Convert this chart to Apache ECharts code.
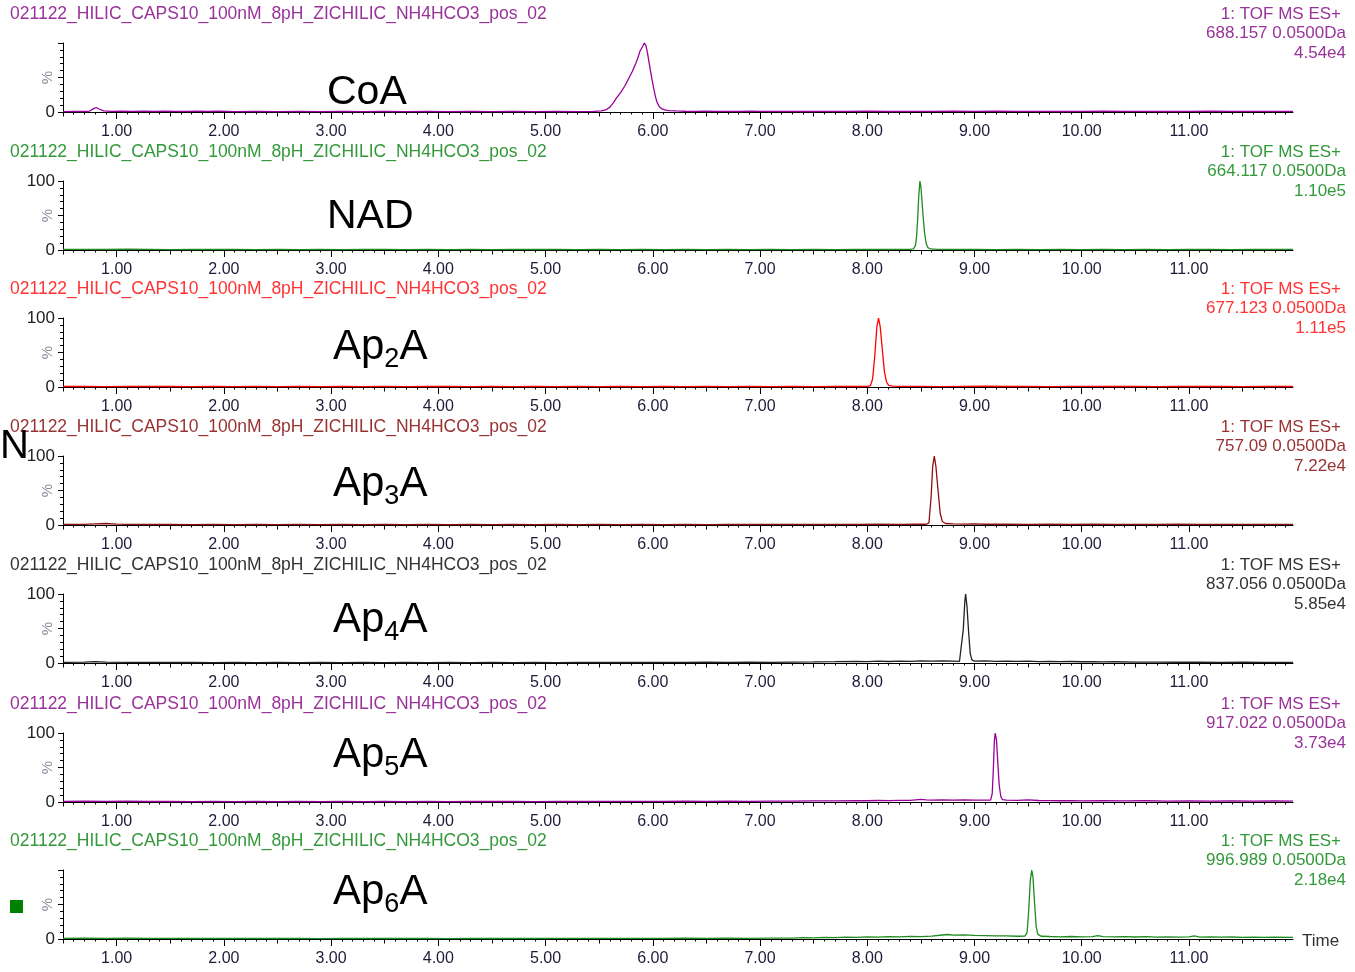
<!DOCTYPE html>
<html><head><meta charset="utf-8">
<script src="https://cdn.jsdelivr.net/npm/echarts@6/dist/echarts.min.js"></script>
<style>html,body{margin:0;padding:0;background:#fff}#c{width:1355px;height:972px}</style>
</head><body><div id="c"></div><script>
const fileName = '021122_HILIC_CAPS10_100nM_8pH_ZICHILIC_NH4HCO3_pos_02';
const scanLabel = '1: TOF MS ES+';
const compounds = ['CoA', 'NAD', 'Ap2A', 'Ap3A', 'Ap4A', 'Ap5A', 'Ap6A'];
const massLabels = ['688.157 0.0500Da', '664.117 0.0500Da', '677.123 0.0500Da', '757.09 0.0500Da', '837.056 0.0500Da', '917.022 0.0500Da', '996.989 0.0500Da'];
const intensities = ['4.54e4', '1.10e5', '1.11e5', '7.22e4', '5.85e4', '3.73e4', '2.18e4'];
const xTickLabels = [1, 2, 3, 4, 5, 6, 7, 8, 9, 10, 11];
const yLabelValues = [[0], [0, 100], [0, 100], [0, 100], [0, 100], [0, 100], [0]];

const coa = [[0.50,0.6],[0.60,0.9],[0.70,0.7],[0.75,1.4],[0.78,4.5],[0.81,6.5],[0.84,4],[0.88,1.5],[0.95,0.9],[1.05,1.3],[1.15,0.8],[1.25,1.1],[1.35,0.7],[1.45,1.2],[1.55,0.8],[1.65,1.0],[1.75,1.3],[1.85,0.9],[1.95,1.1],[2.1,0.6],[2.3,0.8],[2.5,0.5],[2.7,0.7],[2.9,0.6],[3.1,0.8],[3.3,0.5],[3.5,0.7],[3.7,0.6],[3.9,0.8],[4.1,0.5],[4.3,0.7],[4.5,0.6],[4.7,0.8],[4.9,0.6],[5.1,0.7],[5.3,0.6],[5.45,0.9],[5.52,1.5],[5.56,3],[5.60,7],[5.63,13],[5.66,20],[5.70,28],[5.74,38],[5.78,50],[5.81,59],[5.84,70],[5.86,78],[5.88,88],[5.895,86],[5.905,95],[5.92,100],[5.935,97],[5.95,86],[5.965,72],[5.98,58],[5.995,45],[6.01,33],[6.025,22],[6.04,14],[6.06,8],[6.08,5],[6.11,3],[6.15,2],[6.22,1.5],[6.3,1.1],[6.4,0.9],[6.5,1.2],[6.6,0.8],[6.7,1.0],[6.8,0.7],[6.9,1.1],[7.0,0.8],[7.2,0.9],[7.4,0.7],[7.6,1.0],[7.8,0.8],[8.0,1.1],[8.2,0.7],[8.4,0.9],[8.6,0.8],[8.8,1.2],[9.0,0.9],[9.2,1.1],[9.4,0.8],[9.6,1.0],[9.8,0.7],[10.0,0.9],[10.2,1.1],[10.4,0.8],[10.6,1.0],[10.8,0.7],[11.0,0.9],[11.2,1.1],[11.4,0.8],[11.6,1.0],[11.8,0.9],[11.97,1.0]];
const nad = [[0.5,0.8],[0.7,1.0],[0.9,0.7],[1.1,1.1],[1.3,0.8],[1.5,0.6],[1.7,0.9],[1.9,0.7],[2.1,1.0],[2.3,0.6],[2.5,0.8],[2.7,0.5],[2.9,0.9],[3.1,0.6],[3.3,0.8],[3.5,1.0],[3.7,0.6],[3.9,0.8],[4.1,0.5],[4.3,0.9],[4.5,0.6],[4.7,0.8],[4.9,0.7],[5.1,0.9],[5.3,0.6],[5.5,0.8],[5.7,0.5],[5.9,0.7],[6.1,0.6],[6.3,0.8],[6.5,0.5],[6.7,0.7],[6.9,0.6],[7.1,0.8],[7.3,0.5],[7.5,0.7],[7.7,0.6],[7.9,0.8],[8.1,0.7],[8.3,0.9],[8.40,0.8],[8.43,1.5],[8.45,7],[8.46,20],[8.47,45],[8.48,78],[8.491,100],[8.50,92],[8.51,72],[8.52,50],[8.535,24],[8.55,9],[8.565,3.5],[8.59,1.5],[8.65,0.9],[8.8,0.7],[9.0,0.9],[9.2,0.6],[9.4,0.8],[9.6,0.5],[9.8,0.8],[10.0,0.6],[10.2,0.9],[10.4,0.6],[10.6,0.8],[10.8,0.5],[11.0,0.7],[11.2,0.9],[11.4,0.6],[11.6,0.8],[11.8,0.7],[11.97,0.8]];
const ap2a = [[0.5,0.7],[0.7,0.9],[0.9,0.6],[1.1,1.0],[1.3,0.7],[1.5,0.9],[1.7,0.6],[1.9,0.8],[2.1,0.5],[2.3,0.8],[2.5,0.6],[2.7,0.9],[2.9,0.5],[3.1,0.7],[3.3,0.6],[3.5,0.8],[3.7,0.5],[3.9,0.7],[4.1,0.9],[4.3,0.6],[4.5,0.8],[4.7,0.5],[4.9,0.7],[5.1,0.6],[5.3,0.8],[5.5,0.5],[5.7,0.7],[5.9,0.6],[6.1,0.8],[6.3,0.5],[6.5,0.7],[6.7,0.6],[6.9,0.8],[7.1,0.6],[7.3,0.7],[7.5,0.5],[7.7,0.8],[7.9,0.7],[8.00,0.9],[8.03,2],[8.05,12],[8.07,45],[8.09,88],[8.105,100],[8.12,88],[8.14,55],[8.16,22],[8.18,7],[8.20,2.5],[8.24,1.2],[8.3,0.8],[8.5,0.9],[8.7,0.6],[8.9,0.8],[9.1,1.1],[9.3,0.7],[9.5,0.9],[9.7,0.6],[9.9,0.8],[10.1,1.0],[10.3,0.7],[10.5,0.9],[10.7,0.6],[10.9,0.8],[11.1,0.7],[11.3,0.9],[11.5,0.6],[11.7,0.8],[11.97,0.7]];
const ap3a = [[0.5,0.8],[0.7,1.0],[0.8,1.6],[0.9,2.2],[1.0,1.4],[1.1,0.9],[1.3,0.7],[1.5,0.9],[1.7,0.6],[1.9,0.8],[2.1,0.6],[2.3,0.9],[2.5,0.6],[2.7,0.8],[2.9,0.5],[3.1,0.8],[3.3,0.6],[3.5,0.7],[3.7,0.5],[3.9,0.8],[4.1,0.6],[4.3,0.7],[4.5,0.5],[4.7,0.8],[4.9,0.6],[5.1,0.7],[5.3,0.5],[5.5,0.8],[5.7,0.6],[5.9,0.7],[6.1,0.6],[6.3,0.8],[6.5,0.6],[6.7,0.9],[6.9,0.7],[7.1,0.8],[7.3,0.9],[7.5,0.7],[7.7,1.0],[7.9,0.8],[8.1,1.1],[8.3,0.9],[8.45,1.2],[8.55,1.1],[8.575,3],[8.595,40],[8.61,85],[8.625,100],[8.64,85],[8.66,50],[8.68,17],[8.70,5],[8.73,2.2],[8.8,1.6],[8.9,1.3],[9.0,1.5],[9.1,1.1],[9.3,1.3],[9.5,1.0],[9.7,1.2],[9.9,0.9],[10.1,1.1],[10.3,0.8],[10.5,1.0],[10.7,0.8],[10.9,1.1],[11.1,0.7],[11.3,0.9],[11.5,0.8],[11.7,1.0],[11.97,0.8]];
const ap4a = [[0.5,0.9],[0.7,1.3],[0.8,1.9],[0.9,1.2],[1.1,0.8],[1.3,1.0],[1.5,0.7],[1.7,0.9],[1.9,0.6],[2.1,0.8],[2.3,0.6],[2.5,0.9],[2.7,0.6],[2.9,0.8],[3.1,0.5],[3.3,0.8],[3.5,0.6],[3.7,0.7],[3.9,0.5],[4.1,0.8],[4.3,0.6],[4.5,0.7],[4.7,0.6],[4.9,0.8],[5.1,0.6],[5.3,0.9],[5.5,0.7],[5.7,0.9],[5.9,0.7],[6.1,1.0],[6.3,0.8],[6.5,1.1],[6.7,0.9],[6.9,1.2],[7.1,1.0],[7.3,1.4],[7.5,1.6],[7.7,1.9],[7.9,2.3],[8.0,2.0],[8.1,2.6],[8.2,2.2],[8.3,2.8],[8.4,2.4],[8.5,3.0],[8.6,2.6],[8.7,3.1],[8.8,2.7],[8.86,2.5],[8.875,5],[8.895,48],[8.91,90],[8.917,100],[8.93,82],[8.945,45],[8.96,14],[8.975,4.5],[9.0,2.8],[9.1,3.0],[9.2,2.5],[9.3,2.8],[9.4,2.3],[9.5,2.6],[9.6,2.1],[9.7,2.4],[9.8,1.9],[9.9,2.2],[10.0,1.8],[10.1,2.0],[10.2,1.6],[10.3,1.8],[10.5,1.4],[10.7,1.3],[10.9,1.1],[11.1,1.2],[11.3,0.9],[11.5,1.1],[11.7,0.8],[11.97,1.0]];
const ap5a = [[0.5,0.9],[0.7,1.2],[0.9,0.8],[1.1,1.1],[1.3,0.7],[1.5,1.0],[1.7,0.6],[1.9,0.9],[2.1,0.6],[2.3,0.8],[2.5,0.6],[2.7,0.9],[2.9,0.6],[3.1,0.8],[3.3,0.5],[3.5,0.9],[3.7,0.6],[3.9,0.8],[4.1,0.6],[4.3,0.9],[4.5,0.7],[4.7,0.9],[4.9,0.6],[5.1,0.9],[5.3,0.7],[5.5,1.0],[5.7,0.8],[5.9,1.0],[6.1,0.8],[6.3,1.1],[6.5,0.9],[6.7,1.2],[6.9,1.0],[7.1,1.3],[7.3,1.2],[7.5,1.6],[7.7,1.5],[7.9,2.0],[8.0,1.8],[8.1,2.2],[8.2,2.0],[8.3,2.5],[8.4,2.3],[8.5,3.8],[8.55,3.0],[8.6,2.6],[8.7,3.0],[8.8,2.7],[8.9,3.1],[9.0,2.6],[9.1,2.8],[9.15,2.6],[9.165,12],[9.175,45],[9.185,88],[9.193,100],[9.205,90],[9.218,55],[9.23,25],[9.245,8],[9.26,3.5],[9.3,2.6],[9.4,2.4],[9.5,3.0],[9.6,2.2],[9.7,2.0],[9.8,1.8],[9.9,2.1],[10.0,1.7],[10.2,1.9],[10.4,1.5],[10.6,1.8],[10.8,1.4],[11.0,1.7],[11.2,1.4],[11.4,1.6],[11.6,1.3],[11.8,1.5],[11.97,1.3]];
const ap6a = [[0.5,1.0],[0.7,1.2],[0.9,0.9],[1.1,1.1],[1.3,0.8],[1.5,1.0],[1.7,0.7],[1.9,0.9],[2.1,0.7],[2.3,1.0],[2.5,0.7],[2.7,0.9],[2.9,0.6],[3.1,0.9],[3.3,0.7],[3.5,1.0],[3.7,0.7],[3.9,0.9],[4.1,0.6],[4.3,0.9],[4.5,0.7],[4.7,1.0],[4.9,0.7],[5.1,0.9],[5.3,0.8],[5.5,1.0],[5.7,0.8],[5.9,1.0],[6.1,0.8],[6.3,1.1],[6.5,0.9],[6.7,1.1],[6.9,1.0],[7.1,1.2],[7.3,1.4],[7.4,1.9],[7.5,1.7],[7.6,2.3],[7.7,2.0],[7.8,2.6],[7.9,2.4],[8.0,3.0],[8.1,2.8],[8.2,3.5],[8.3,3.1],[8.4,3.8],[8.5,3.4],[8.6,4.2],[8.7,5.8],[8.75,6.5],[8.8,5.6],[8.9,5.9],[9.0,5.2],[9.1,5.0],[9.2,4.4],[9.3,4.6],[9.4,4.0],[9.47,4.2],[9.49,9],[9.505,40],[9.52,85],[9.534,100],[9.545,90],[9.56,52],[9.575,18],[9.59,7],[9.62,4],[9.7,3.6],[9.8,3.2],[9.9,3.6],[10.0,3.0],[10.1,3.4],[10.15,5],[10.2,3.3],[10.3,3.0],[10.4,3.4],[10.5,2.9],[10.6,3.3],[10.7,2.8],[10.8,3.1],[10.9,2.7],[11.0,3.0],[11.05,4.5],[11.1,2.8],[11.2,3.1],[11.3,2.6],[11.4,2.9],[11.5,2.5],[11.6,2.8],[11.7,2.4],[11.8,2.6],[11.97,2.3]];

const seriesData = [coa, nad, ap2a, ap3a, ap4a, ap5a, ap6a];
const textColors = ['#993399', '#33993a', '#ff3333', '#993333', '#333333', '#993399', '#33993a'];
const lineColors = ['#990099', '#228b22', '#ff0000', '#8b1010', '#222222', '#990099', '#1e8b1e'];

// layout (pixels)
const tops = [43, 181, 318, 456, 594, 733, 870];
const gridH = 69, gridL = 63, gridW = 1230;
const labelPos = [[327, 93], [327, 217], [333, 347], [333, 484], [333, 620], [333, 755], [333, 892]];
const FONT = "'Liberation Sans', Arial, sans-serif";
const BIG = 42, SUB = 27;

const measureCtx = document.createElement('canvas').getContext('2d');
function textW(t, size) { measureCtx.font = size + 'px ' + FONT; return measureCtx.measureText(t).width; }

const halfTicks = [], minorTicks = [];
for (let k = 5; k <= 119; k++) { const v = k / 10; if (k % 5 !== 0) minorTicks.push(v); else if (k % 10 === 5) halfTicks.push(v); }
const yMinor = [0,10,20,30,40,50,60,70,80,90,100];
const yMajor = [0,50,100];

const grids = [], xAxes = [], yAxes = [], series = [], graphics = [];
for (let i = 0; i < 7; i++) {
  grids.push({ left: gridL, width: gridW, top: tops[i], height: gridH, containLabel: false, outerBoundsMode: 'none' });
  const xBase = { type: 'value', gridIndex: i, min: 0.5, max: 11.97, position: 'bottom', splitLine: { show: false } };
  xAxes.push(Object.assign({}, xBase, {
    axisLine: { show: true, onZero: false, lineStyle: { color: '#000', width: 1 } },
    axisTick: { show: true, customValues: xTickLabels, length: 7, lineStyle: { color: '#000', width: 1 } },
    axisLabel: { show: true, customValues: xTickLabels, formatter: v => v.toFixed(2), fontSize: 16, fontFamily: FONT, color: '#1c1c3a', margin: 12 }
  }));
  xAxes.push(Object.assign({}, xBase, {
    axisLine: { show: false, onZero: false },
    axisTick: { show: true, customValues: halfTicks, length: 4.5, lineStyle: { color: '#000', width: 1 } },
    axisLabel: { show: false }
  }));
  xAxes.push(Object.assign({}, xBase, {
    axisLine: { show: false, onZero: false },
    axisTick: { show: true, customValues: minorTicks, length: 2.5, lineStyle: { color: '#000', width: 1 } },
    axisLabel: { show: false }
  }));
  const yBase = { type: 'value', gridIndex: i, min: 0, max: 100, position: 'left', splitLine: { show: false } };
  yAxes.push(Object.assign({}, yBase, {
    name: '%', nameLocation: 'middle', nameRotate: 90, nameGap: 8, nameMoveOverlap: false,
    nameTextStyle: { color: '#8a8a9a', fontSize: 15, fontFamily: FONT },
    axisLine: { show: true, onZero: false, lineStyle: { color: '#000', width: 1 } },
    axisTick: { show: true, customValues: yMinor, length: 3, lineStyle: { color: '#000', width: 1 } },
    axisLabel: { show: true, customValues: yLabelValues[i], fontSize: 17, fontFamily: FONT, color: '#222', margin: 8 }
  }));
  yAxes.push(Object.assign({}, yBase, {
    axisLine: { show: false, onZero: false },
    axisTick: { show: true, customValues: yMajor, length: 5, lineStyle: { color: '#000', width: 1 } },
    axisLabel: { show: false }
  }));
  series.push({
    type: 'line', xAxisIndex: 3 * i, yAxisIndex: 2 * i, data: seriesData[i],
    showSymbol: false, symbol: 'none', silent: true, animation: false, z: 5,
    lineStyle: { color: lineColors[i], width: 1.3 }
  });
  graphics.push({ type: 'text', x: 10, y: tops[i] - 29, style: { text: fileName, fill: textColors[i], font: '17.5px ' + FONT, textAlign: 'left', textVerticalAlign: 'middle' } });
  graphics.push({ type: 'text', x: 1341, y: tops[i] - 29, style: { text: scanLabel, fill: textColors[i], font: '17px ' + FONT, textAlign: 'right', textVerticalAlign: 'middle' } });
  graphics.push({ type: 'text', x: 1346, y: tops[i] - 10, style: { text: massLabels[i], fill: textColors[i], font: '17px ' + FONT, textAlign: 'right', textVerticalAlign: 'middle' } });
  graphics.push({ type: 'text', x: 1346, y: tops[i] + 10, style: { text: intensities[i], fill: textColors[i], font: '17px ' + FONT, textAlign: 'right', textVerticalAlign: 'middle' } });
  const name = compounds[i];
  const m = name.match(/^Ap(\d)A$/);
  const [lx, ly] = labelPos[i];
  if (m) {
    const w1 = textW('Ap', BIG), w2 = textW(m[1], SUB);
    graphics.push({ type: 'text', x: lx, y: ly, style: { text: 'Ap', fill: '#000', font: BIG + 'px ' + FONT, textAlign: 'left', textVerticalAlign: 'middle' } });
    graphics.push({ type: 'text', x: lx + w1, y: ly + 12.5, style: { text: m[1], fill: '#000', font: SUB + 'px ' + FONT, textAlign: 'left', textVerticalAlign: 'middle' } });
    graphics.push({ type: 'text', x: lx + w1 + w2, y: ly, style: { text: 'A', fill: '#000', font: BIG + 'px ' + FONT, textAlign: 'left', textVerticalAlign: 'middle' } });
  } else {
    graphics.push({ type: 'text', x: lx, y: ly, style: { text: name, fill: '#000', font: '41px ' + FONT, textAlign: 'left', textVerticalAlign: 'middle' } });
  }
}
graphics.push({ type: 'text', x: 1302, y: 941, style: { text: 'Time', fill: '#333', font: '17px ' + FONT, textAlign: 'left', textVerticalAlign: 'middle' } });
graphics.push({ type: 'text', x: 29, y: 447, style: { text: 'CN', fill: '#000', font: '40px ' + FONT, textAlign: 'right', textVerticalAlign: 'middle' } });
graphics.push({ type: 'rect', shape: { x: 10, y: 900, width: 13, height: 13 }, style: { fill: '#008000' } });

const chart = echarts.init(document.getElementById('c'), null, { renderer: 'canvas' });
chart.setOption({
  animation: false,
  backgroundColor: '#fff',
  grid: grids, xAxis: xAxes, yAxis: yAxes, series: series,
  graphic: { elements: graphics }
});
</script></body></html>
